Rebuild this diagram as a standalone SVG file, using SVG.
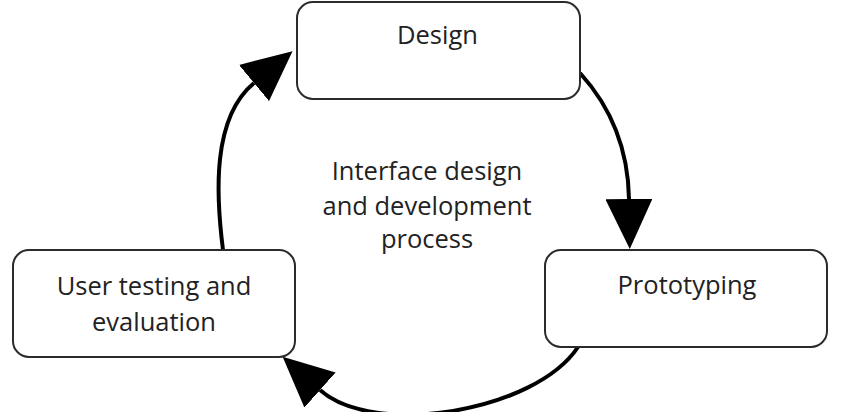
<svg xmlns="http://www.w3.org/2000/svg" width="843" height="412" viewBox="0 0 843 412">
<style>
.box{fill:#fff;stroke:#2b2b2b;stroke-width:2}
.lbl{font-family:"Open Sans","Liberation Sans",sans-serif;font-size:25.5px;fill:#222;text-anchor:middle}
.conn{fill:none;stroke:#000;stroke-width:4;marker-end:url(#ah)}
</style>
<defs>
<marker id="ah" markerUnits="userSpaceOnUse" viewBox="0 0 50 47" markerWidth="50" markerHeight="47" refX="0" refY="23.5" orient="auto">
<path d="M0,0 L50,23.5 L0,47 Z" fill="#000"/>
</marker>
</defs>
<rect width="843" height="412" fill="#fff"/>
<g id="connectors">
<path class="conn" d="M580,73 C600,95 628,135 629,199"/>
<path class="conn" d="M578,347 C535,412 374,438 320,390"/>
<path class="conn" d="M223,250 C216,195 211.7,118 254,83"/>
</g>
<g id="design">
<rect class="box" x="297" y="2" width="283" height="97" rx="16"/>
<text class="lbl" x="437.5" y="44">Design</text>
</g>
<g id="prototyping">
<rect class="box" x="545" y="250" width="282" height="97" rx="16"/>
<text class="lbl" x="687" y="294">Prototyping</text>
</g>
<g id="user-testing">
<rect class="box" x="13" y="250" width="282" height="107" rx="16"/>
<text class="lbl" x="154" y="295">User testing and</text>
<text class="lbl" x="154" y="331">evaluation</text>
</g>
<g id="center-label">
<text class="lbl" x="427" y="180">Interface design</text>
<text class="lbl" x="427" y="214.5">and development</text>
<text class="lbl" x="427" y="248">process</text>
</g>
</svg>
